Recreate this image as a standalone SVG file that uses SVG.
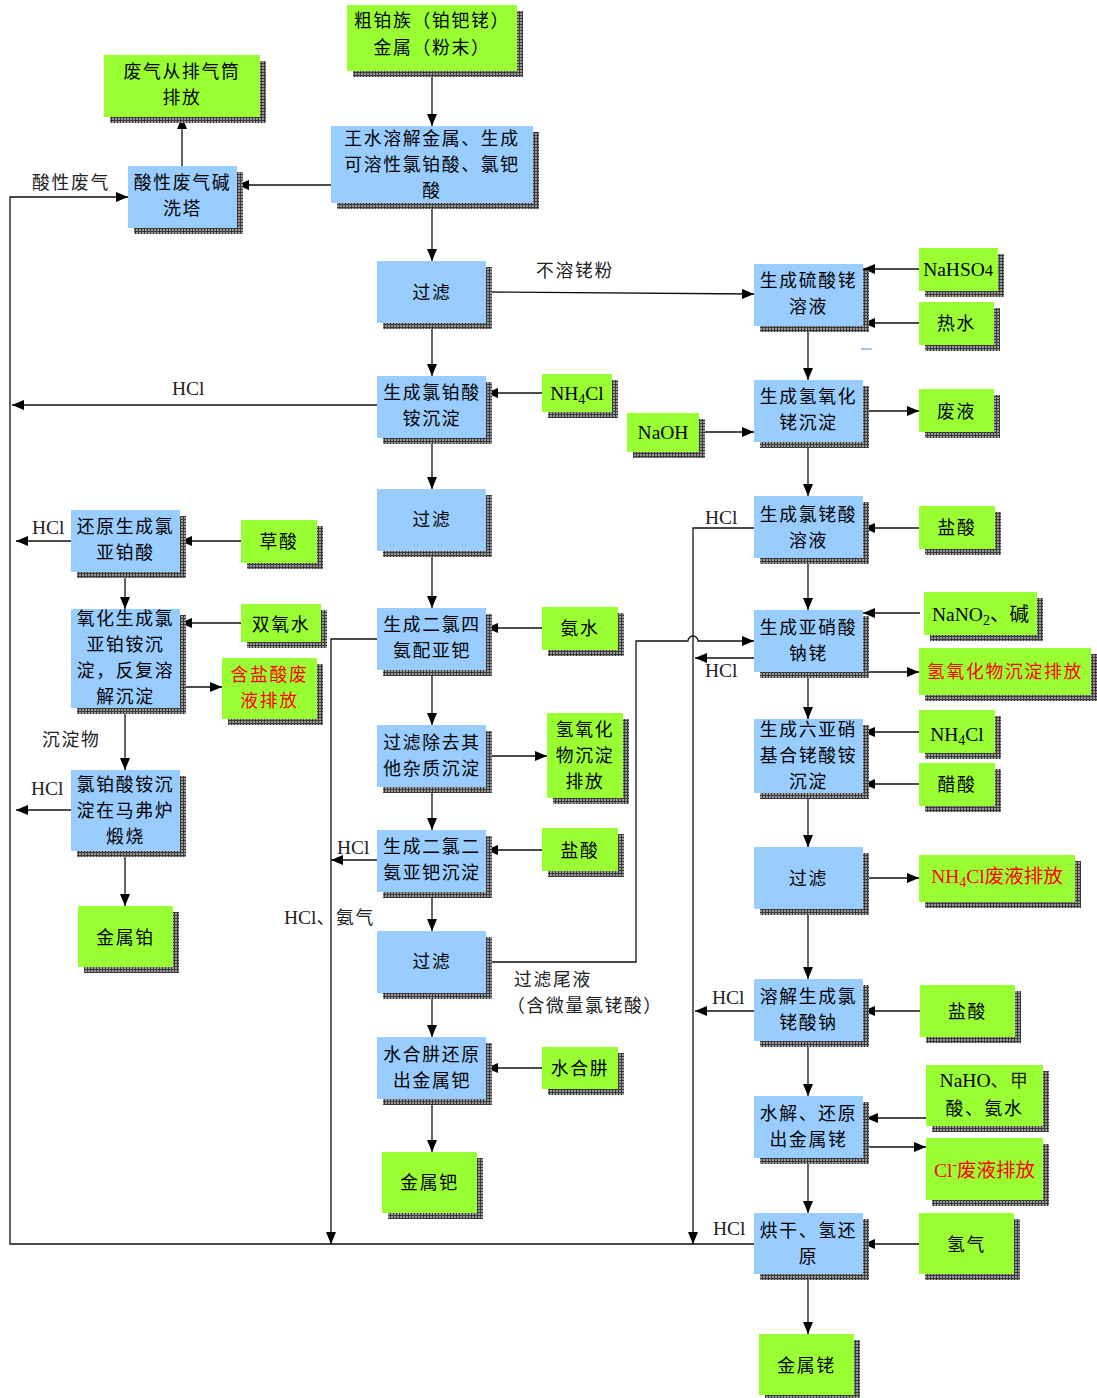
<svg xmlns="http://www.w3.org/2000/svg" width="1097" height="1398" viewBox="0 0 1097 1398">
<defs>
<pattern id="chk" width="3" height="3" patternUnits="userSpaceOnUse"><rect width="3" height="3" fill="#3a3a3a"/><rect x="1" y="1" width="2" height="2" fill="#9a9a9a"/></pattern>
<marker id="ah" markerUnits="userSpaceOnUse" markerWidth="13" markerHeight="11" refX="12" refY="5" orient="auto"><path d="M0,0 L12,5 L0,10 z" fill="#000"/></marker>
<style>
.b{fill:#99CCFF}
.g{fill:#99FF33}
.sh{fill:url(#chk)}
.t{font-family:"Noto Sans CJK SC",sans-serif;font-size:17.8px;letter-spacing:1.7px;text-anchor:middle;fill:#000}
.s{font-family:"Liberation Serif","Noto Sans CJK SC",serif;font-size:19.5px;text-anchor:middle;fill:#000}
.red{fill:#FF0000}
.lbl{font-family:"Liberation Serif","Noto Sans CJK SC",serif;font-size:19.5px;fill:#222}
.lc{font-family:"Noto Sans CJK SC",sans-serif;font-size:17.8px;letter-spacing:1.7px;fill:#222}
.c{fill:none;stroke:#111;stroke-width:1.3}
.a{marker-end:url(#ah)}
</style>
</defs>
<rect width="1097" height="1398" fill="#fff"/>
<g id="connectors">
<path class="c a" d="M432,71 V126"/>
<path class="c a" d="M331,185 H237"/>
<path class="c a" d="M182,166 V117"/>
<path class="c a" d="M432,203 V261"/>
<path class="c a" d="M486,292 L754,294"/>
<path class="c a" d="M919,269 H863"/>
<path class="c a" d="M919,323 H863"/>
<path class="c a" d="M808,325 V380"/>
<path class="c a" d="M699,432 H754"/>
<path class="c a" d="M863,411 H919"/>
<path class="c a" d="M808,442 V496"/>
<path class="c a" d="M919,528 H863"/>
<path class="c a" d="M808,558 V610"/>
<path class="c a" d="M920,613 H863"/>
<path class="c a" d="M863,672 H919"/>
<path class="c a" d="M808,672 V719"/>
<path class="c a" d="M919,732 H863"/>
<path class="c a" d="M919,784 H863"/>
<path class="c a" d="M808,793 V847"/>
<path class="c a" d="M863,878 H919"/>
<path class="c a" d="M808,909 V979"/>
<path class="c a" d="M920,1011 H863"/>
<path class="c a" d="M808,1041 V1096"/>
<path class="c a" d="M926,1118 H866"/>
<path class="c a" d="M866,1147 H926"/>
<path class="c a" d="M808,1158 V1213"/>
<path class="c a" d="M919,1244 H863"/>
<path class="c a" d="M808,1274 V1334"/>
<path class="c a" d="M754,528 H693 V1244"/>
<path class="c a" d="M754,658 H695"/>
<path class="c a" d="M754,1011 H695"/>
<path class="c a" d="M754,1244 H10 V197 H128"/>
<path class="c a" d="M432,323 V376"/>
<path class="c a" d="M542,393 H486"/>
<path class="c a" d="M377,405 H12"/>
<path class="c a" d="M432,438 V489"/>
<path class="c a" d="M432,551 V608"/>
<path class="c a" d="M542,628 H486"/>
<path class="c a" d="M377,639 H331 V1244"/>
<path class="c a" d="M432,670 V725"/>
<path class="c a" d="M486,756 H547"/>
<path class="c a" d="M432,787 V830"/>
<path class="c a" d="M542,850 H486"/>
<path class="c a" d="M377,860 H331"/>
<path class="c a" d="M432,892 V931"/>
<path class="c a" d="M486,962 H636 V641 H688 A5,5 0 0 1 698,641 H754"/>
<path class="c a" d="M432,993 V1037"/>
<path class="c a" d="M542,1068 H486"/>
<path class="c a" d="M432,1099 V1152"/>
<path class="c a" d="M241,541 H180"/>
<path class="c a" d="M71,541 H16"/>
<path class="c a" d="M125,572 V609"/>
<path class="c a" d="M241,623 H180"/>
<path class="c a" d="M180,687 H222"/>
<path class="c a" d="M125,708 V770"/>
<path class="c a" d="M71,810 H16"/>
<path class="c a" d="M125,851 V906"/>
<path d="M861,349 H872" stroke="#7799dd" stroke-width="1.2"/>
</g>
<g id="labels">
<text class="lc" x="32" y="189">酸性废气</text>
<text class="lc" x="536" y="277">不溶铑粉</text>
<text class="lbl" x="172" y="395">HCl</text>
<text class="lbl" x="32" y="534">HCl</text>
<text class="lc" x="42" y="746">沉淀物</text>
<text class="lbl" x="31" y="795">HCl</text>
<text class="lbl" x="337" y="854">HCl</text>
<text class="lbl" x="284" y="924">HCl<tspan class="lc">、氨气</tspan></text>
<text class="lc"><tspan x="514" y="986">过滤尾液</tspan><tspan x="507" y="1012">（含微量氯铑酸）</tspan></text>
<text class="lbl" x="705" y="524">HCl</text>
<text class="lbl" x="705" y="677">HCl</text>
<text class="lbl" x="712" y="1004">HCl</text>
<text class="lbl" x="713" y="1235">HCl</text>
</g>
<g id="n1"><rect class="sh" x="353" y="11" width="170" height="66"/><rect class="g" x="347" y="5" width="170" height="66"/><text class="t"><tspan x="432" y="27">粗铂族（铂钯铑）</tspan><tspan x="432" y="54">金属（粉末）</tspan></text></g>
<g id="n2"><rect class="sh" x="110" y="61" width="156" height="62"/><rect class="g" x="104" y="55" width="156" height="62"/><text class="t"><tspan x="182" y="78">废气从排气筒</tspan><tspan x="182" y="104">排放</tspan></text></g>
<g id="n3"><rect class="sh" x="337" y="132" width="202" height="77"/><rect class="b" x="331" y="126" width="202" height="77"/><text class="t"><tspan x="432" y="145">王水溶解金属、生成</tspan><tspan x="432" y="171">可溶性氯铂酸、氯钯</tspan><tspan x="432" y="197">酸</tspan></text></g>
<g id="n4"><rect class="sh" x="134" y="172" width="109" height="62"/><rect class="b" x="128" y="166" width="109" height="62"/><text class="t"><tspan x="182.5" y="189">酸性废气碱</tspan><tspan x="182.5" y="215">洗塔</tspan></text></g>
<g id="n5"><rect class="sh" x="383" y="267" width="109" height="62"/><rect class="b" x="377" y="261" width="109" height="62"/><text class="t" x="432" y="299">过滤</text></g>
<g id="n6"><rect class="sh" x="760" y="270" width="109" height="62"/><rect class="b" x="754" y="264" width="109" height="62"/><text class="t"><tspan x="808.5" y="287">生成硫酸铑</tspan><tspan x="808.5" y="313">溶液</tspan></text></g>
<g id="n7"><rect class="sh" x="925" y="254" width="79" height="43"/><rect class="g" x="919" y="248" width="79" height="43"/><text class="s" x="958" y="276">NaHSO<tspan font-size="16">4</tspan></text></g>
<g id="n8"><rect class="sh" x="925" y="308" width="75" height="43"/><rect class="g" x="919" y="302" width="75" height="43"/><text class="t" x="956.5" y="330">热水</text></g>
<g id="n9"><rect class="sh" x="383" y="382" width="109" height="62"/><rect class="b" x="377" y="376" width="109" height="62"/><text class="t"><tspan x="432" y="399">生成氯铂酸</tspan><tspan x="432" y="425">铵沉淀</tspan></text></g>
<g id="n10"><rect class="sh" x="548" y="380" width="70" height="38"/><rect class="g" x="542" y="374" width="70" height="38"/><text class="s" x="577" y="400">NH<tspan font-size="14" dy="4">4</tspan><tspan dy="-4">Cl</tspan></text></g>
<g id="n11"><rect class="sh" x="633" y="419" width="72" height="39"/><rect class="g" x="627" y="413" width="72" height="39"/><text class="s" x="663" y="439">NaOH</text></g>
<g id="n12"><rect class="sh" x="760" y="386" width="109" height="62"/><rect class="b" x="754" y="380" width="109" height="62"/><text class="t"><tspan x="808.5" y="403">生成氢氧化</tspan><tspan x="808.5" y="429">铑沉淀</tspan></text></g>
<g id="n13"><rect class="sh" x="925" y="395" width="75" height="43"/><rect class="g" x="919" y="389" width="75" height="43"/><text class="t" x="956.5" y="418">废液</text></g>
<g id="n14"><rect class="sh" x="383" y="495" width="109" height="62"/><rect class="b" x="377" y="489" width="109" height="62"/><text class="t" x="432" y="526">过滤</text></g>
<g id="n15"><rect class="sh" x="760" y="502" width="109" height="62"/><rect class="b" x="754" y="496" width="109" height="62"/><text class="t"><tspan x="808.5" y="521">生成氯铑酸</tspan><tspan x="808.5" y="547">溶液</tspan></text></g>
<g id="n16"><rect class="sh" x="925" y="512" width="76" height="43"/><rect class="g" x="919" y="506" width="76" height="43"/><text class="t" x="957" y="534">盐酸</text></g>
<g id="n17"><rect class="sh" x="77" y="516" width="109" height="62"/><rect class="b" x="71" y="510" width="109" height="62"/><text class="t"><tspan x="125.5" y="533">还原生成氯</tspan><tspan x="125.5" y="559">亚铂酸</tspan></text></g>
<g id="n18"><rect class="sh" x="247" y="526" width="76" height="43"/><rect class="g" x="241" y="520" width="76" height="43"/><text class="t" x="279" y="548">草酸</text></g>
<g id="n19"><rect class="sh" x="383" y="614" width="109" height="62"/><rect class="b" x="377" y="608" width="109" height="62"/><text class="t"><tspan x="432" y="631">生成二氯四</tspan><tspan x="432" y="657">氨配亚钯</tspan></text></g>
<g id="n20"><rect class="sh" x="548" y="613" width="76" height="43"/><rect class="g" x="542" y="607" width="76" height="43"/><text class="t" x="580" y="635">氨水</text></g>
<g id="n21"><rect class="sh" x="77" y="615" width="109" height="99"/><rect class="b" x="71" y="609" width="109" height="99"/><text class="t"><tspan x="125.5" y="625">氧化生成氯</tspan><tspan x="125.5" y="651">亚铂铵沉</tspan><tspan x="125.5" y="677">淀，反复溶</tspan><tspan x="125.5" y="703">解沉淀</tspan></text></g>
<g id="n22"><rect class="sh" x="247" y="610" width="80" height="38"/><rect class="g" x="241" y="604" width="80" height="38"/><text class="t" x="281" y="631">双氧水</text></g>
<g id="n23"><rect class="sh" x="228" y="664" width="95" height="61"/><rect class="g" x="222" y="658" width="95" height="61"/><text class="t red"><tspan x="269.5" y="681">含盐酸废</tspan><tspan x="269.5" y="707">液排放</tspan></text></g>
<g id="n24"><rect class="sh" x="760" y="616" width="109" height="62"/><rect class="b" x="754" y="610" width="109" height="62"/><text class="t"><tspan x="808.5" y="634">生成亚硝酸</tspan><tspan x="808.5" y="660">钠铑</tspan></text></g>
<g id="n25"><rect class="sh" x="930" y="598" width="113" height="43"/><rect class="g" x="924" y="592" width="113" height="43"/><text class="s" x="980.5" y="621">NaNO<tspan font-size="14" dy="4">2</tspan><tspan dy="-4">、碱</tspan></text></g>
<g id="n26"><rect class="sh" x="925" y="654" width="172" height="47"/><rect class="g" x="919" y="648" width="172" height="47"/><text class="t red" x="1005" y="678">氢氧化物沉淀排放</text></g>
<g id="n27"><rect class="sh" x="760" y="725" width="109" height="74"/><rect class="b" x="754" y="719" width="109" height="74"/><text class="t"><tspan x="808.5" y="736">生成六亚硝</tspan><tspan x="808.5" y="762">基合铑酸铵</tspan><tspan x="808.5" y="788">沉淀</tspan></text></g>
<g id="n28"><rect class="sh" x="925" y="716" width="76" height="43"/><rect class="g" x="919" y="710" width="76" height="43"/><text class="s" x="957" y="741">NH<tspan font-size="14" dy="4">4</tspan><tspan dy="-4">Cl</tspan></text></g>
<g id="n29"><rect class="sh" x="925" y="769" width="76" height="43"/><rect class="g" x="919" y="763" width="76" height="43"/><text class="t" x="957" y="791">醋酸</text></g>
<g id="n30"><rect class="sh" x="383" y="731" width="109" height="62"/><rect class="b" x="377" y="725" width="109" height="62"/><text class="t"><tspan x="432" y="749">过滤除去其</tspan><tspan x="432" y="775">他杂质沉淀</tspan></text></g>
<g id="n31"><rect class="sh" x="553" y="719" width="76" height="85"/><rect class="g" x="547" y="713" width="76" height="85"/><text class="t"><tspan x="585" y="736">氢氧化</tspan><tspan x="585" y="762">物沉淀</tspan><tspan x="585" y="788">排放</tspan></text></g>
<g id="n32"><rect class="sh" x="77" y="776" width="109" height="81"/><rect class="b" x="71" y="770" width="109" height="81"/><text class="t"><tspan x="125.5" y="791">氯铂酸铵沉</tspan><tspan x="125.5" y="817">淀在马弗炉</tspan><tspan x="125.5" y="843">煅烧</tspan></text></g>
<g id="n33"><rect class="sh" x="84" y="912" width="95" height="61"/><rect class="g" x="78" y="906" width="95" height="61"/><text class="t" x="125.5" y="944">金属铂</text></g>
<g id="n34"><rect class="sh" x="383" y="836" width="109" height="62"/><rect class="b" x="377" y="830" width="109" height="62"/><text class="t"><tspan x="432" y="853">生成二氯二</tspan><tspan x="432" y="879">氨亚钯沉淀</tspan></text></g>
<g id="n35"><rect class="sh" x="548" y="834" width="76" height="43"/><rect class="g" x="542" y="828" width="76" height="43"/><text class="t" x="580" y="857">盐酸</text></g>
<g id="n36"><rect class="sh" x="383" y="937" width="109" height="62"/><rect class="b" x="377" y="931" width="109" height="62"/><text class="t" x="432" y="968">过滤</text></g>
<g id="n37"><rect class="sh" x="760" y="853" width="109" height="62"/><rect class="b" x="754" y="847" width="109" height="62"/><text class="t" x="808.5" y="885">过滤</text></g>
<g id="n38"><rect class="sh" x="925" y="861" width="156" height="47"/><rect class="g" x="919" y="855" width="156" height="47"/><text class="s red" x="997" y="883">NH<tspan font-size="14" dy="4">4</tspan><tspan dy="-4">Cl废液排放</tspan></text></g>
<g id="n39"><rect class="sh" x="760" y="985" width="109" height="62"/><rect class="b" x="754" y="979" width="109" height="62"/><text class="t"><tspan x="808.5" y="1003">溶解生成氯</tspan><tspan x="808.5" y="1029">铑酸钠</tspan></text></g>
<g id="n40"><rect class="sh" x="926" y="991" width="95" height="52"/><rect class="g" x="920" y="985" width="95" height="52"/><text class="t" x="967.5" y="1018">盐酸</text></g>
<g id="n41"><rect class="sh" x="383" y="1043" width="109" height="62"/><rect class="b" x="377" y="1037" width="109" height="62"/><text class="t"><tspan x="432" y="1061">水合肼还原</tspan><tspan x="432" y="1087">出金属钯</tspan></text></g>
<g id="n42"><rect class="sh" x="548" y="1053" width="76" height="42"/><rect class="g" x="542" y="1047" width="76" height="42"/><text class="t" x="580" y="1075">水合肼</text></g>
<g id="n43"><rect class="sh" x="932" y="1071" width="117" height="61"/><rect class="g" x="926" y="1065" width="117" height="61"/><text class="s"><tspan x="984.5" y="1087">NaHO<tspan class="lc">、甲</tspan></tspan></text><text class="t" x="984.5" y="1115">酸、氨水</text></g>
<g id="n44"><rect class="sh" x="760" y="1102" width="109" height="62"/><rect class="b" x="754" y="1096" width="109" height="62"/><text class="t"><tspan x="808.5" y="1120">水解、还原</tspan><tspan x="808.5" y="1146">出金属铑</tspan></text></g>
<g id="n45"><rect class="sh" x="932" y="1144" width="117" height="62"/><rect class="g" x="926" y="1138" width="117" height="62"/><text class="s red" x="984.5" y="1177">Cl<tspan font-size="14" dy="-8">-</tspan><tspan dy="8">废液排放</tspan></text></g>
<g id="n46"><rect class="sh" x="388" y="1158" width="95" height="61"/><rect class="g" x="382" y="1152" width="95" height="61"/><text class="t" x="429.5" y="1189">金属钯</text></g>
<g id="n47"><rect class="sh" x="760" y="1219" width="109" height="61"/><rect class="b" x="754" y="1213" width="109" height="61"/><text class="t"><tspan x="808.5" y="1237">烘干、氢还</tspan><tspan x="808.5" y="1263">原</tspan></text></g>
<g id="n48"><rect class="sh" x="925" y="1219" width="95" height="61"/><rect class="g" x="919" y="1213" width="95" height="61"/><text class="t" x="966.5" y="1251">氢气</text></g>
<g id="n49"><rect class="sh" x="765" y="1340" width="95" height="61"/><rect class="g" x="759" y="1334" width="95" height="61"/><text class="t" x="806.5" y="1372">金属铑</text></g>
</svg>
